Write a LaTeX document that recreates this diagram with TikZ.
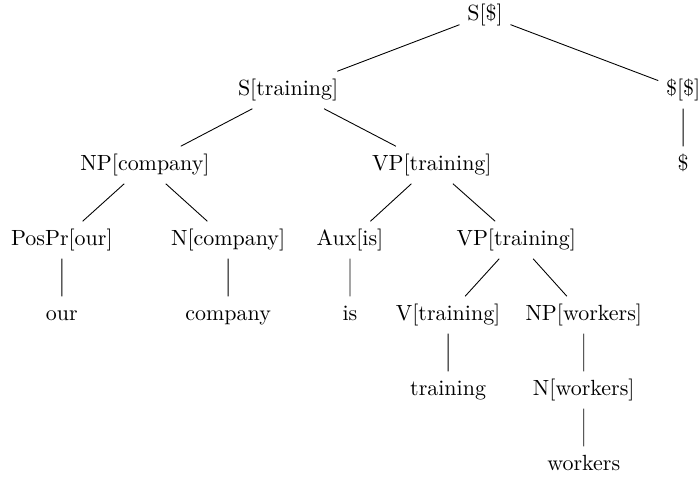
\documentclass[tikz,border=0pt]{standalone}
\usepackage{amsmath,amssymb}

\begin{document}
\begin{tikzpicture}[
  every node/.style={text height=7.5pt, text depth=2.5pt}
]
  \useasboundingbox (0,0) rectangle (11.184,-7.68);

  \node (S) at (7.76,-0.24) {S[\$]};
  \node (St) at (4.61,-1.44) {S[training]};
  \node (D) at (10.93,-1.44) {\$[\$]};
  \node (Dw) at (10.93,-2.64) {\$};
  \node (NPc) at (2.32,-2.64) {NP[company]};
  \node (VPt) at (6.91,-2.64) {VP[training]};
  \node (Pos) at (0.99,-3.84) {PosPr[our]};
  \node (Nc) at (3.65,-3.84) {N[company]};
  \node (Aux) at (5.60,-3.84) {Aux[is]};
  \node (VPt2) at (8.26,-3.84) {VP[training]};
  \node (our) at (0.99,-5.04) {our};
  \node (company) at (3.65,-5.04) {company};
  \node (is) at (5.60,-5.04) {is};
  \node (Vt) at (7.17,-5.04) {V[training]};
  \node (NPw) at (9.34,-5.04) {NP[workers]};
  \node (training) at (7.17,-6.24) {training};
  \node (Nw) at (9.34,-6.24) {N[workers]};
  \node (workers) at (9.34,-7.44) {workers};

  \draw
    (S) -- (St)
    (S) -- (D)
    (D) -- (Dw)
    (St) -- (NPc)
    (St) -- (VPt)
    (NPc) -- (Pos)
    (NPc) -- (Nc)
    (Pos) -- (our)
    (Nc) -- (company)
    (VPt) -- (Aux)
    (VPt) -- (VPt2)
    (Aux) -- (is)
    (VPt2) -- (Vt)
    (VPt2) -- (NPw)
    (Vt) -- (training)
    (NPw) -- (Nw)
    (Nw) -- (workers);
\end{tikzpicture}
\end{document}
